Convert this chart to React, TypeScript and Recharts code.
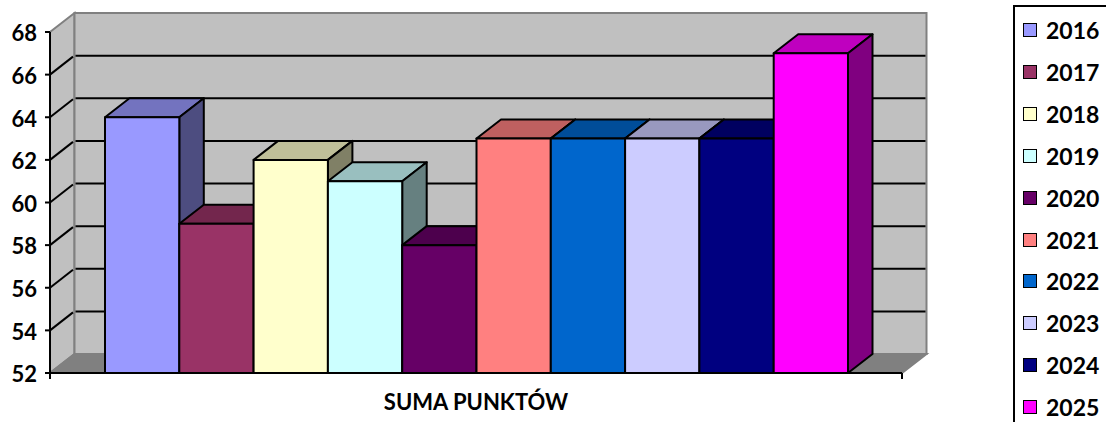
import React from 'react';
import { BarChart, Bar, XAxis, YAxis, Legend, ReferenceArea, ReferenceLine } from 'recharts';

const years = ['2016', '2017', '2018', '2019', '2020', '2021', '2022', '2023', '2024', '2025'];
const points = [64, 59, 62, 61, 58, 63, 63, 63, 63, 67];
const colors = ['#9999FF', '#993366', '#FFFFCC', '#CCFFFF', '#660066', '#FF8080', '#0066CC', '#CCCCFF', '#000080', '#FF00FF'];
const yTicks = [52, 54, 56, 58, 60, 62, 64, 66, 68];
const gridTicks = [54, 56, 58, 60, 62, 64, 66];
const category = 'SUMA PUNKTÓW';

const row: Record<string, any> = { name: category };
years.forEach((y, i) => {
  row[y] = points[i];
});
const data = [row];

const DX = 24.5;
const DY = 19;
const FONT = 'Lato, sans-serif';

// darken a hex colour for the top and side faces
const shade = (hex: string, k: number) => {
  const n = parseInt(hex.slice(1), 16);
  const c = [(n >> 16) & 255, (n >> 8) & 255, n & 255].map((v) => Math.round(v * k));
  return `rgb(${c[0]},${c[1]},${c[2]})`;
};

const Bar3D = (props: any) => {
  const { x, y, width, height, fill } = props;
  const r = x + width;
  const b = y + height;
  return (
    <g stroke="#000" strokeWidth={2} strokeLinejoin="round">
      <path d={`M${x},${y} L${x + DX},${y - DY} L${r + DX},${y - DY} L${r},${y} Z`} fill={shade(fill, 0.75)} />
      <path d={`M${r},${y} L${r + DX},${y - DY} L${r + DX},${b - DY} L${r},${b} Z`} fill={shade(fill, 0.5)} />
      <rect x={x} y={y} width={width} height={height} fill={fill} />
    </g>
  );
};

const Walls = (props: any) => {
  const { x, y, width, height } = props;
  const r = x + width;
  const b = y + height;
  return (
    <g stroke="#808080" strokeWidth={2}>
      <path d={`M${x},${y} L${x + DX},${y - DY} L${x + DX},${b - DY} L${x},${b} Z`} fill="#C0C0C0" />
      <rect x={x + DX} y={y - DY} width={width} height={height} fill="#C0C0C0" />
      <path d={`M${x},${b} L${x + DX},${b - DY} L${r + DX},${b - DY} L${r},${b} Z`} fill="#808080" />
      <line x1={r} y1={b} x2={r} y2={b + 6} stroke="#000" />
      <line x1={x} y1={b} x2={x} y2={b + 6} stroke="#000" />
    </g>
  );
};

const GridLine = (props: any) => {
  const { x1, x2, y1 } = props;
  return (
    <g stroke="#000" strokeWidth={2}>
      <line x1={x1} y1={y1} x2={x1 + DX - 1.5} y2={y1 - DY + 1} />
      <line x1={x1 + DX + 1} y1={y1 - DY} x2={x2 + DX - 1} y2={y1 - DY} />
    </g>
  );
};

const LegendBox = ({ payload }: any) => (
  <div style={{ width: 120, height: 440, boxSizing: 'border-box', border: '2px solid #000', position: 'relative', background: '#fff' }}>
    {(payload || []).map((item: any, i: number) => (
      <div
        key={item.value}
        style={{ position: 'absolute', left: 8, top: 2 + i * 41.9, height: 42, display: 'flex', alignItems: 'center', fontFamily: FONT, fontWeight: 700, fontSize: 23, color: '#000' }}
      >
        <span style={{ width: 14, height: 14, boxSizing: 'border-box', border: '1.5px solid #000', background: item.color, marginRight: 9 }} />
        {item.value}
      </div>
    ))}
  </div>
);

export default function App() {
  return (
    <div style={{ position: 'absolute', left: 0, top: 0, width: 1106, height: 422, overflow: 'hidden', background: '#fff' }}>
      <BarChart
        width={1106}
        height={422}
        data={data}
        margin={{ top: 32, right: 204, bottom: 0, left: 0 }}
        barGap={0}
        barSize={74.3}
      >
        <XAxis
          dataKey="name"
          tickLine={false}
          axisLine={{ stroke: '#000', strokeWidth: 2 }}
          tick={{ fill: '#000', fontFamily: FONT, fontWeight: 700, fontSize: 22 }}
          tickMargin={15}
          height={49}
        />
        <YAxis
          width={50}
          domain={[52, 68]}
          ticks={yTicks}
          interval={0}
          tickSize={5}
          tickMargin={8}
          tickLine={{ stroke: '#000', strokeWidth: 2 }}
          axisLine={{ stroke: '#000', strokeWidth: 2 }}
          tick={{ fill: '#000', fontFamily: FONT, fontWeight: 700, fontSize: 22, dy: 1.5 }}
        />
        <ReferenceArea y1={52} y2={68} shape={Walls} ifOverflow="visible" />
        {gridTicks.map((t) => (
          <ReferenceLine key={t} y={t} shape={GridLine} zIndex={200} />
        ))}
        {years.map((y, i) => (
          <Bar key={y} dataKey={y} name={y} fill={colors[i]} shape={Bar3D} isAnimationActive={false} />
        ))}
        <Legend
          layout="vertical"
          align="center"
          verticalAlign="middle"
          content={LegendBox}
          wrapperStyle={{ position: 'absolute', left: 1013, top: 5, width: 120, height: 440 }}
        />
      </BarChart>
    </div>
  );
}
